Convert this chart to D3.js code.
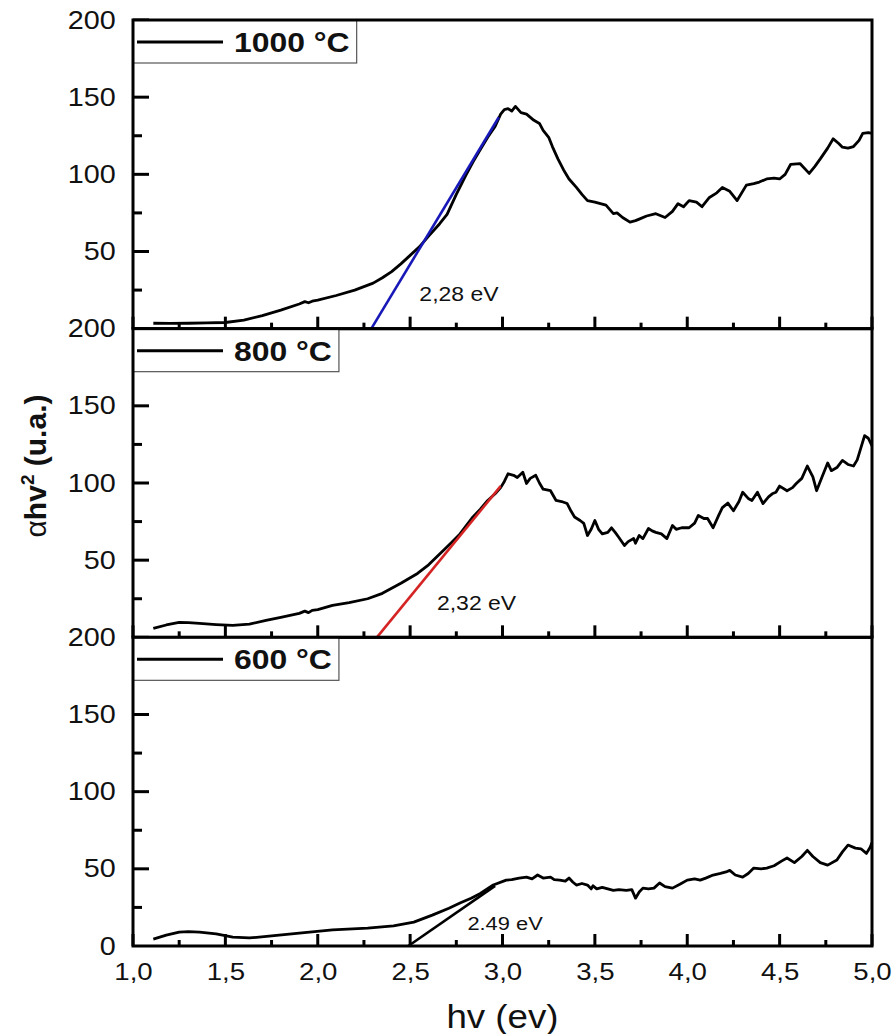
<!DOCTYPE html>
<html lang="en">
<head>
<meta charset="UTF-8">
<title>Tauc plots 1000 / 800 / 600 °C</title>
<script src="https://d3js.org/d3.v7.min.js"></script>
<style>
  body { margin: 0; background: #fff; }
  svg { display: block; font-family: "Liberation Sans", Arial, sans-serif; }
</style>
</head>
<body>
<svg width="894" height="1034"></svg>
<script>
// ---- data: [hv (eV), alpha*hv^2 (u.a.)] ----
const temperatures = ["1000 °C", "800 °C", "600 °C"];

const curve1000 = [[1.11,3.5],[1.2,3.4],[1.3,3.5],[1.4,3.7],[1.5,4],[1.6,5.5],[1.7,8.5],[1.8,12],[1.9,16],[1.93,17.5],[1.95,16.8],[1.97,17.8],[2.0,18.5],
  [2.1,21.5],[2.2,25],[2.3,29.5],[2.35,33],[2.4,37],[2.45,42],[2.5,47.5],[2.55,53],[2.6,60],[2.66,68],[2.7,74],[2.75,87],[2.8,99],[2.84,108],[2.88,116],
  [2.92,124],[2.96,131],[2.99,139],[3.01,142],[3.03,142.5],[3.05,141],[3.07,144],[3.10,140],[3.13,139],[3.17,135],[3.20,133],[3.22,128.5],[3.25,124],
  [3.27,118],[3.30,110],[3.33,103],[3.36,97],[3.40,91.5],[3.43,87],[3.46,83],[3.50,82],[3.53,81],[3.56,80],[3.60,74.5],[3.62,75],[3.65,72],[3.69,69],
  [3.72,70],[3.74,71],[3.78,73],[3.83,74.5],[3.88,72],[3.92,76],[3.95,81],[3.98,79],[4.01,83],[4.05,82],[4.08,79],[4.12,85],[4.16,88],[4.19,91.5],
  [4.23,89],[4.27,83],[4.32,93],[4.36,94],[4.39,95],[4.43,97],[4.47,97.5],[4.50,97],[4.53,100],[4.56,106.5],[4.61,107],[4.66,100.6],[4.69,105],
  [4.72,110],[4.76,117],[4.79,123],[4.82,120],[4.84,117.6],[4.87,117],[4.90,118],[4.93,122],[4.95,126.5],[4.98,127],[5.0,126.5]];

const curve800 = [[1.11,5.8],[1.18,8],[1.25,9.7],[1.3,9.5],[1.36,9],[1.45,8.3],[1.54,7.8],[1.63,8.5],[1.72,11],[1.8,13],[1.9,15.5],[1.93,17],[1.95,16],
  [1.97,17.5],[2.0,18],[2.08,20.7],[2.17,22.5],[2.27,25],[2.35,28.5],[2.45,35],[2.54,41.4],[2.6,47],[2.66,54],[2.72,61],[2.77,67],[2.84,78],[2.88,83],
  [2.92,88.7],[2.96,93],[2.99,97],[3.01,101],[3.03,106],[3.06,105],[3.08,103.6],[3.11,107],[3.13,99.7],[3.15,103],[3.18,105],[3.20,100],[3.22,96],
  [3.26,95],[3.29,88.7],[3.32,88],[3.35,86.7],[3.37,82],[3.39,78],[3.42,75.7],[3.44,73.8],[3.46,66],[3.48,70],[3.50,75.7],[3.52,70],[3.54,67],[3.57,68],
  [3.59,71],[3.61,68],[3.63,64.7],[3.66,59.5],[3.68,62],[3.71,64],[3.72,61],[3.74,66],[3.76,64],[3.79,70.5],[3.81,69],[3.83,68],[3.86,67],[3.89,64],
  [3.92,72.5],[3.94,70],[3.97,71],[4.01,71],[4.04,74],[4.06,79],[4.09,77],[4.11,77],[4.14,71],[4.17,79],[4.19,84],[4.22,87],[4.25,82],[4.28,88],
  [4.30,94],[4.33,90],[4.35,88.7],[4.38,94],[4.41,86.7],[4.44,91],[4.46,93],[4.48,94],[4.50,98],[4.54,95],[4.57,97],[4.59,99.7],[4.62,103],[4.65,111],
  [4.68,104],[4.70,95],[4.73,104],[4.76,113],[4.78,108],[4.81,110],[4.84,114.6],[4.87,112],[4.90,111],[4.92,115],[4.96,130.7],[4.98,129],[5.0,124]];

const curve600 = [[1.11,4.5],[1.18,7],[1.25,9],[1.3,9.3],[1.36,9],[1.45,7.8],[1.54,5.8],[1.63,5.2],[1.75,6.5],[1.9,8.4],[2.08,10.4],[2.27,11.6],[2.41,13],
  [2.52,15.5],[2.62,20],[2.71,24.5],[2.77,27.8],[2.83,31],[2.88,34],[2.95,39.5],[3.02,42.7],[3.05,43],[3.09,44],[3.13,44.6],[3.16,43.5],[3.19,46],
  [3.22,44],[3.26,44.6],[3.28,43],[3.31,42.7],[3.34,42],[3.36,44],[3.38,41.5],[3.40,39.5],[3.43,40.5],[3.46,39.5],[3.48,37],[3.49,39],[3.51,37],
  [3.54,38],[3.57,37],[3.60,36],[3.63,36.5],[3.67,36],[3.70,36.5],[3.72,31],[3.74,35],[3.76,37.5],[3.79,37],[3.82,37.5],[3.85,40.8],[3.88,38.5],
  [3.92,37.5],[3.96,40],[4.0,42.7],[4.04,43.5],[4.07,42.7],[4.10,44],[4.14,46],[4.18,47],[4.21,48],[4.23,49],[4.26,46],[4.30,44.6],[4.33,47],
  [4.36,50.5],[4.40,50],[4.43,50.5],[4.47,52],[4.51,55],[4.54,57],[4.58,54],[4.62,58],[4.65,62],[4.68,58],[4.72,54],[4.76,52.4],[4.81,55.7],
  [4.84,61],[4.87,65.4],[4.91,63.4],[4.94,63],[4.97,60],[4.99,64],[5.0,67]];

// linear fits (Tauc extrapolation) and their band-gap labels
const fit1000 = [[2.29,0],[2.98,137]];
const fit800 = [[2.32,0],[2.99,98]];
const fit600 = [[2.49,0],[2.96,39]];
const gapLabels = ["2,28 eV", "2,32 eV", "2.49 eV"];
const gapLabelAt = [[2.55,18],[2.645,18],[2.81,10.4]];

const xMajor = [1, 1.5, 2, 2.5, 3, 3.5, 4, 4.5, 5];
const xMinor = [1.25, 1.75, 2.25, 2.75, 3.25, 3.75, 4.25, 4.75];
const yMajor = [50, 100, 150, 200];
const yMinor = [25, 75, 125, 175];

const curves = [curve1000, curve800, curve600];
const fits = [fit1000, fit800, fit600];
const fitColors = ["#1818b8", "#d42424", "#000000"];

// ---- layout ----
const svg = d3.select("svg");
const width = +svg.attr("width");
const height = +svg.attr("height");
const margin = { top: 20, right: 22, bottom: 88, left: 133 };
const plotW = width - margin.left - margin.right;
const panelH = (height - margin.top - margin.bottom) / 3;
const stretch = 1.15; // glyphs in the original are a bit wide

const x = d3.scaleLinear().domain([1, 5]).range([0, plotW]);
const y = d3.scaleLinear().domain([0, 200]).range([panelH, 0]);

const line = d3.line().x(d => x(d[0])).y(d => y(d[1]));
const commaFmt = v => d3.format(".1f")(v).replace(".", ",");

function styleLabels(a, size) {
  a.select(".domain").remove();
  a.selectAll(".tick line").remove();
  a.selectAll("text")
    .attr("font-size", size)
    .attr("font-family", "'Liberation Sans', Arial, sans-serif")
    .attr("fill", "#111")
    .attr("transform", `scale(${stretch},1)`);
}

curves.forEach((data, i) => {
  const g = svg.append("g")
    .attr("transform", `translate(${margin.left},${margin.top + i * panelH})`);
  const last = i === curves.length - 1;

  // inward tick marks
  const tickG = g.append("g").attr("stroke", "#000").attr("stroke-width", 3);
  tickG.selectAll(".xt").data(xMajor.concat(xMinor)).join("line")
    .attr("x1", d => x(d)).attr("x2", d => x(d))
    .attr("y1", panelH).attr("y2", d => panelH - (xMajor.includes(d) ? 12 : 6));
  tickG.selectAll(".yt").data(yMajor.concat(yMinor)).join("line")
    .attr("x1", 0).attr("x2", d => (yMajor.includes(d) ? 16 : 9))
    .attr("y1", d => y(d)).attr("y2", d => y(d));

  // tick labels
  if (last) {
    g.append("g").attr("transform", `translate(0,${panelH})`)
      .call(d3.axisBottom(x).tickValues(xMajor).tickSize(0).tickPadding(17).tickFormat(commaFmt))
      .call(a => styleLabels(a, 24));
  }
  g.append("g")
    .call(d3.axisLeft(y).tickValues(last ? [0].concat(yMajor) : yMajor).tickSize(0).tickPadding(15))
    .call(a => styleLabels(a, 25));

  // measured curve
  g.append("path").datum(data)
    .attr("d", line)
    .attr("fill", "none")
    .attr("stroke", "#000")
    .attr("stroke-width", 2.8)
    .attr("stroke-linejoin", "round");

  // fitted straight line
  g.append("path").datum(fits[i])
    .attr("d", line)
    .attr("fill", "none")
    .attr("stroke", fitColors[i])
    .attr("stroke-width", 2.6);

  g.append("text")
    .attr("transform", `translate(${x(gapLabelAt[i][0])},${y(gapLabelAt[i][1])}) scale(${stretch},1)`)
    .attr("font-size", last ? 19 : 20)
    .attr("fill", "#111")
    .text(gapLabels[i]);

  // legend box
  const lg = g.append("g");
  const box = lg.append("rect")
    .attr("x", 0).attr("y", 0).attr("height", 43)
    .attr("fill", "#fff").attr("stroke", "#555").attr("stroke-width", 1.2);
  lg.append("line")
    .attr("x1", 4).attr("x2", 90).attr("y1", 22).attr("y2", 22)
    .attr("stroke", "#000").attr("stroke-width", 3);
  const lt = lg.append("text")
    .attr("transform", `translate(101,32) scale(1.14,1)`)
    .attr("font-size", 28).attr("font-weight", "bold").attr("fill", "#111")
    .text(temperatures[i]);
  box.attr("width", 101 + lt.node().getBBox().width * 1.14 + 7);

  // panel frame
  g.append("rect")
    .attr("width", plotW).attr("height", panelH)
    .attr("fill", "none").attr("stroke", "#000").attr("stroke-width", 3);
});

// axis titles
svg.append("text")
  .attr("transform", `translate(${margin.left + plotW / 2},1028) scale(1.08,1)`)
  .attr("text-anchor", "middle")
  .attr("font-size", 34)
  .attr("fill", "#111")
  .text("hv (ev)");

const yTitle = svg.append("text")
  .attr("transform", "translate(46,466) rotate(-90)")
  .attr("text-anchor", "middle")
  .attr("font-size", 30)
  .attr("font-weight", "bold")
  .attr("fill", "#111");
yTitle.append("tspan").attr("font-weight", "normal").text("α");
yTitle.append("tspan").text("hv");
yTitle.append("tspan").attr("font-size", 19).attr("dy", -12).text("2");
yTitle.append("tspan").attr("dy", 12).text(" (u.a.)");
</script>
</body>
</html>
